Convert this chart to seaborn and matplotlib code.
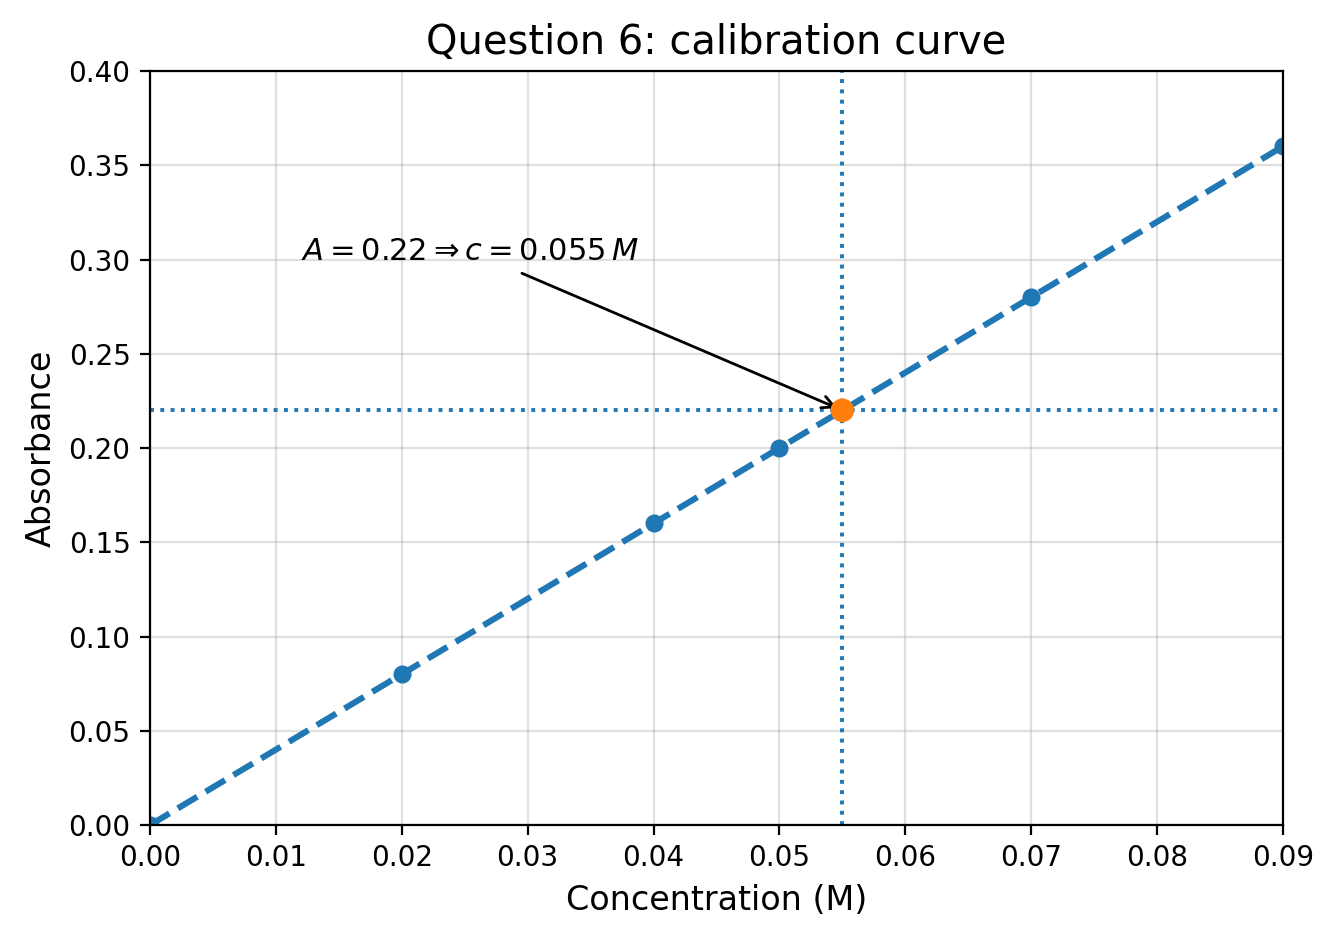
import numpy as np
import pandas as pd
import matplotlib
matplotlib.use("Agg")
import matplotlib.pyplot as plt
import seaborn as sns

# data
conc = [0.0, 0.02, 0.04, 0.05, 0.07, 0.09]
absorb = [0.0, 0.08, 0.16, 0.20, 0.28, 0.36]
unk_conc = 0.055
unk_abs = 0.22

df = pd.DataFrame({"Concentration (M)": conc, "Absorbance": absorb})

fig, ax = plt.subplots(figsize=(6.675, 4.71), dpi=200)
fig.subplots_adjust(left=0.1124, right=0.961, top=0.9246, bottom=0.1242)

sns.lineplot(data=df, x="Concentration (M)", y="Absorbance", ax=ax,
             marker="o", markersize=6.5, markeredgewidth=0, linestyle="--",
             linewidth=2.2, color="#1f77b4")

ax.axhline(unk_abs, linestyle=":", color="#1f77b4", linewidth=1.4)
ax.axvline(unk_conc, linestyle=":", color="#1f77b4", linewidth=1.4)
sns.scatterplot(x=[unk_conc], y=[unk_abs], ax=ax, color="#ff7f0e", s=72,
                edgecolor="none", zorder=5)

ax.annotate(r"$A=0.22 \Rightarrow c=0.055\,M$", xy=(unk_conc, unk_abs),
            xytext=(0.012, 0.30), fontsize=11,
            arrowprops=dict(arrowstyle="->", color="black"))

ax.set_xlim(0, 0.09)
ax.set_ylim(0, 0.40)
ax.grid(True, alpha=0.4)
ax.set_xlabel("Concentration (M)", fontsize=12)
ax.set_ylabel("Absorbance", fontsize=12)
ax.set_title("Question 6: calibration curve", fontsize=14.4)

fig.savefig("out.png", dpi=200)
